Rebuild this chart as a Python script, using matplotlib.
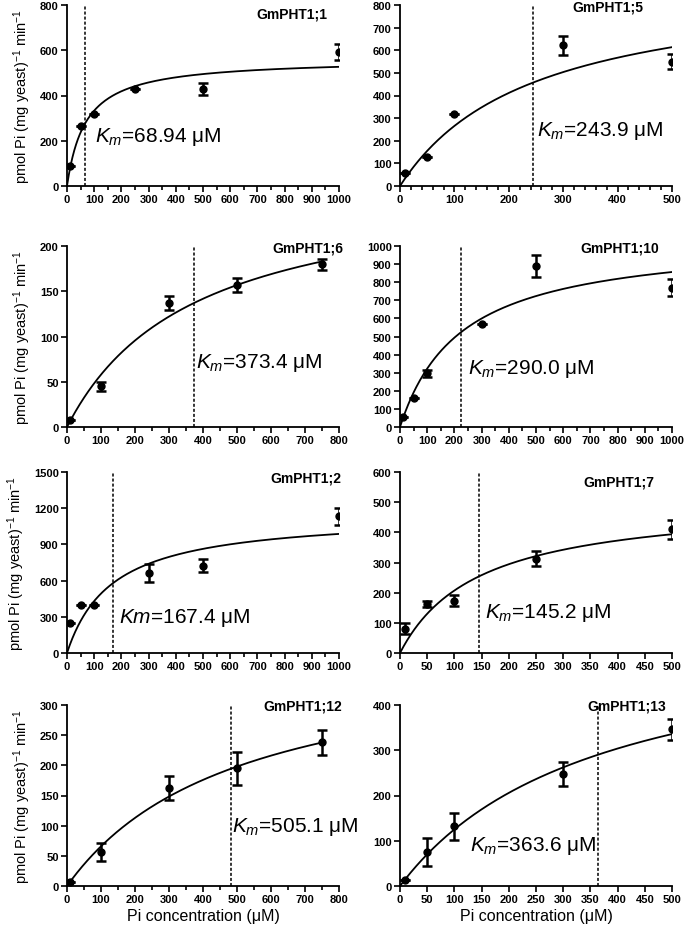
import matplotlib
matplotlib.use("Agg")
from matplotlib import pyplot as plt
from matplotlib.ticker import MultipleLocator
import numpy as np

plt.rcParams["font.family"] = ["Liberation Sans", "DejaVu Sans"]
plt.rcParams["mathtext.fontset"] = "custom"
plt.rcParams["mathtext.rm"] = "Liberation Sans"
plt.rcParams["mathtext.it"] = "Liberation Sans:italic"
plt.rcParams["mathtext.bf"] = "Liberation Sans:bold"
plt.rcParams["axes.unicode_minus"] = False

names = ["GmPHT1;1", "GmPHT1;5", "GmPHT1;6", "GmPHT1;10",
         "GmPHT1;2", "GmPHT1;7", "GmPHT1;12", "GmPHT1;13"]

conc = [
    [10, 50, 100, 250, 500, 1000],
    [10, 50, 100, 300, 500],
    [10, 100, 300, 500, 750],
    [10, 50, 100, 300, 500, 1000],
    [10, 50, 100, 300, 500, 1000],
    [10, 50, 100, 250, 500],
    [10, 100, 300, 500, 750],
    [10, 50, 100, 300, 500],
]
rate = [
    [88, 264, 320, 429, 429, 592],
    [56, 126, 320, 621, 550],
    [8, 45, 137, 157, 180],
    [54, 161, 296, 567, 889, 769],
    [245, 399, 399, 663, 725, 1132],
    [81, 162, 174, 313, 410],
    [7, 56, 163, 195, 238],
    [13, 76, 132, 247, 346],
]
err = [
    [0, 0, 0, 0, 26, 36],
    [0, 0, 0, 43, 32],
    [0, 5, 7.5, 8, 6],
    [0, 0, 20, 0, 60, 46],
    [0, 0, 0, 73, 56, 70],
    [19, 10, 17, 25, 32],
    [0, 15, 20, 27, 21],
    [0, 31, 30, 27, 24],
]

# fitted Michaelis-Menten curves: Vmax and Km as drawn
vmax = [563, 913, 274, 1049, 1152, 508, 398, 580]
km_fit = [68.94, 243.9, 373.4, 225, 167.4, 145.2, 505.1, 363.6]
km_line = [68, 244, 373, 223, 169, 145, 481, 364]
km_label = ["68.94", "243.9", "373.4", "290.0", "167.4", "145.2", "505.1", "363.6"]
km_italic_sub = [True, True, True, True, False, True, True, True]

xmax = [1000, 500, 800, 1000, 1000, 500, 800, 500]
ymax = [800, 800, 200, 1000, 1500, 600, 300, 400]
xmajor = [100, 100, 100, 100, 100, 50, 100, 50]
xminor = [50, 20, 50, 50, 50, None, 50, None]
ymajor = [200, 100, 50, 100, 300, 100, 50, 100]

label_xy = [(104, 220), (251, 248), (380, 72), (251, 328),
            (190, 301), (156, 137), (485, 99), (128, 90)]
title_xy = [(0.956, 0.955), (0.893, 0.99), (1.015, 0.99), (0.952, 0.99),
            (1.01, 0.97), (0.934, 0.95), (1.01, 0.995), (0.98, 0.995)]

W, H = 685, 928
fig = plt.figure(figsize=(W / 100, H / 100), dpi=100)

col_left = [67, 400]
row_top = [6, 247, 473, 706]
aw, ah = 272, 181

for i in range(8):
    r, c = divmod(i, 2)
    left = col_left[c]
    top = row_top[r]
    ax = fig.add_axes([left / W, 1 - (top + ah) / H, aw / W, ah / H])

    x = np.array(conc[i])
    y = np.array(rate[i])
    e = np.array(err[i])

    xs = np.linspace(0, x.max(), 300)
    ax.plot(xs, vmax[i] * xs / (km_fit[i] + xs), color="black", lw=1.3, zorder=3)
    ax.errorbar(x, y, yerr=e, fmt="o", color="black", ms=5, elinewidth=1.8,
                capsize=3.5, capthick=1.8, zorder=4)
    ax.axvline(km_line[i], color="black", lw=1.1, ls=(0, (2, 1.3)), zorder=2)

    if km_italic_sub[i]:
        txt = r"$K_m$=" + km_label[i] + " \u03bcM"
    else:
        txt = r"$Km$=" + km_label[i] + " \u03bcM"
    ax.text(label_xy[i][0], label_xy[i][1], txt, fontsize=15, va="center",
            ha="left", clip_on=False, zorder=5)

    ax.text(title_xy[i][0], title_xy[i][1], names[i], transform=ax.transAxes,
            ha="right", va="center", fontsize=10, fontweight="bold")

    ax.set_xlim(0, xmax[i])
    ax.set_ylim(0, ymax[i])
    ax.xaxis.set_major_locator(MultipleLocator(xmajor[i]))
    if xminor[i]:
        ax.xaxis.set_minor_locator(MultipleLocator(xminor[i]))
    ax.yaxis.set_major_locator(MultipleLocator(ymajor[i]))

    for s in ["top", "right"]:
        ax.spines[s].set_visible(False)
    for s in ["left", "bottom"]:
        ax.spines[s].set_linewidth(1.3)
    ax.tick_params(which="major", length=4, width=1.2, labelsize=8, pad=2)
    ax.tick_params(which="minor", length=3, width=1.2)
    for lab in ax.get_xticklabels() + ax.get_yticklabels():
        lab.set_fontweight("bold")

    if c == 0:
        ax.set_ylabel(r"pmol Pi (mg yeast)$^{-1}$ min$^{-1}$", fontsize=10.5, labelpad=5)
    if r == 3:
        ax.set_xlabel("Pi concentration (\u03bcM)", fontsize=11.5, labelpad=3)

fig.savefig("out.png", dpi=100)
